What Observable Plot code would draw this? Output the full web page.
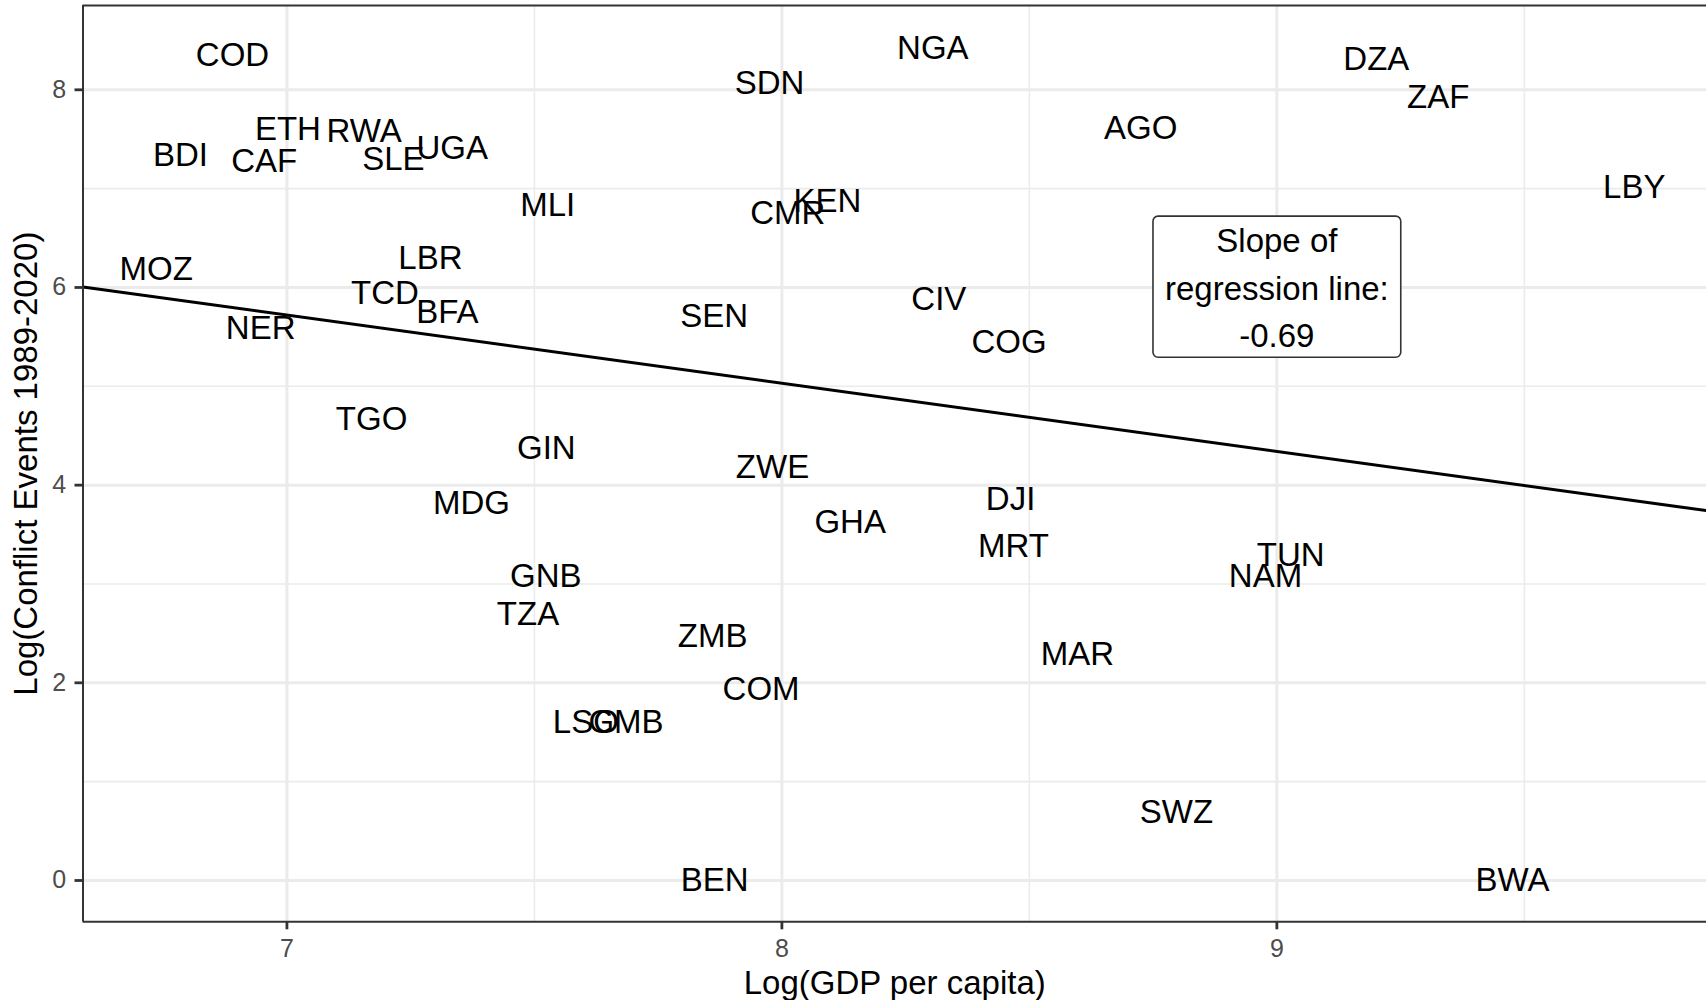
<!DOCTYPE html>
<html>
<head>
<meta charset="utf-8">
<script src="https://cdn.jsdelivr.net/npm/d3@7"></script>
<script src="https://cdn.jsdelivr.net/npm/@observablehq/plot@0.6"></script>
<style>
  html, body { margin: 0; padding: 0; background: #ffffff; overflow: hidden; }
  #chart svg { display: block; }
</style>
</head>
<body>
<div id="chart"></div>
<script>
// ---- Data ----
const countries = ["COD","ETH","RWA","BDI","CAF","SLE","UGA","MLI","MOZ","LBR","TCD","BFA","NER","TGO","GIN","MDG","GNB","TZA","LSO","GMB",
                   "NGA","SDN","AGO","KEN","CMR","CIV","SEN","COG","ZWE","DJI","GHA","MRT","ZMB","MAR","COM","BEN","SWZ",
                   "DZA","ZAF","LBY","TUN","NAM","BWA"];
const logGdp = [6.890, 7.002, 7.156, 6.785, 6.954, 7.215, 7.334, 7.527, 6.736, 7.290, 7.198, 7.324, 6.947, 7.171, 7.524, 7.373, 7.523, 7.487, 7.604, 7.685,
                8.305, 7.975, 8.725, 8.092, 8.012, 8.317, 7.863, 8.459, 7.981, 8.462, 8.138, 8.468, 7.860, 8.597, 7.958, 7.864, 8.797,
                9.201, 9.326, 9.722, 9.028, 8.977, 9.476];
const logConflict = [8.345, 7.604, 7.583, 7.331, 7.273, 7.297, 7.410, 6.828, 6.185, 6.292, 5.935, 5.743, 5.581, 4.664, 4.368, 3.815, 3.079, 2.691, 1.598, 1.598,
                     8.421, 8.060, 7.612, 6.872, 6.746, 5.878, 5.708, 5.440, 4.184, 3.859, 3.623, 3.384, 2.474, 2.288, 1.934, 0, 0.693,
                     8.311, 7.925, 7.016, 3.286, 3.081, 0];

const xTicks = [7, 8, 9];
const xMinorTicks = [7.5, 8.5, 9.5];
const yTicks = [0, 2, 4, 6, 8];
const yMinorTicks = [1, 3, 5, 7];
const xDomain = [6.588, 9.868];
const yDomain = [-0.418, 8.853];

const regSlope = -0.69;
const regIntercept = 10.551;
const annotationX = [9];
const annotationY = [6];
const annotationText = ["Slope of\nregression line:\n-0.69"];

const xTitle = "Log(GDP per capita)";
const yTitle = "Log(Conflict Events 1989-2020)";

// ---- Build tables ----
const data = countries.map((c, i) => ({code: c, gdp: logGdp[i], conflict: logConflict[i]}));
const regLine = xDomain.map(x => ({x, y: regIntercept + regSlope * x}));
const annotation = annotationText.map((t, i) => ({x: annotationX[i], y: annotationY[i], text: t}));

const FONT = "'Liberation Sans', Arial, Helvetica, sans-serif";
const gridColor = "#EBEBEB";
const darkLine = "#333333";
const intFmt = d3.format("d");
const LABEL_SIZE = 33;
const TICK_SIZE = 25;

const plot = Plot.plot({
  width: 1706,
  height: 1000,
  marginLeft: 82.5,
  marginRight: 0,
  marginTop: 5,
  marginBottom: 78.7,
  x: {domain: xDomain},
  y: {domain: yDomain},
  style: {fontFamily: FONT, background: "#ffffff", color: "#000000"},
  marks: [
    // minor gridlines
    Plot.ruleX(xMinorTicks, {stroke: gridColor, strokeWidth: 1.6}),
    Plot.ruleY(yMinorTicks, {stroke: gridColor, strokeWidth: 1.6}),
    // major gridlines
    Plot.ruleX(xTicks, {stroke: gridColor, strokeWidth: 3}),
    Plot.ruleY(yTicks, {stroke: gridColor, strokeWidth: 3}),
    // country labels
    Plot.text(data, {x: "gdp", y: "conflict", text: "code", fontSize: LABEL_SIZE, fill: "#000000"}),
    // regression line
    Plot.line(regLine, {x: "x", y: "y", stroke: "#000000", strokeWidth: 3, clip: true}),
    // annotation label
    Plot.text(annotation, {x: "x", y: "y", text: "text", fontSize: LABEL_SIZE, lineHeight: 1.44, dy: -3, fill: "#000000"}),
    // panel border (left, top, bottom)
    Plot.ruleX([xDomain[0]], {stroke: darkLine, strokeWidth: 2}),
    Plot.ruleY([yDomain[0], yDomain[1]], {stroke: darkLine, strokeWidth: 2}),
    // axes
    Plot.axisX(xTicks, {tickSize: 8, tickPadding: 9, fontSize: TICK_SIZE, tickFormat: intFmt, stroke: darkLine, strokeWidth: 2.8, fill: "#4D4D4D", label: null}),
    Plot.axisY(yTicks, {tickSize: 8, tickPadding: 8.8, fontSize: TICK_SIZE, tickFormat: intFmt, stroke: darkLine, strokeWidth: 2.8, fill: "#4D4D4D", label: null}),
    // axis titles
    Plot.text([xTitle], {frameAnchor: "bottom", lineAnchor: "middle", textAnchor: "middle", text: d => d, dy: 61.6, fontSize: LABEL_SIZE, fill: "#000000"}),
    Plot.text([yTitle], {frameAnchor: "left", lineAnchor: "middle", textAnchor: "middle", text: d => d, rotate: -90, dx: -56.3, fontSize: LABEL_SIZE, fill: "#000000"})
  ]
});

document.getElementById("chart").appendChild(plot);

// make sure the tick labels use the intended size
plot.querySelectorAll('g[aria-label$="tick label"]').forEach(g => {
  g.setAttribute("font-size", TICK_SIZE);
  g.querySelectorAll("text").forEach(t => t.style.fontSize = TICK_SIZE + "px");
});

// Rounded white box behind the annotation text (like a ggplot label)
const svgBox = plot.getBoundingClientRect();
const annNode = Array.from(plot.querySelectorAll("text")).find(e => e.textContent.startsWith("Slope"));
if (annNode) {
  const bb = annNode.getBoundingClientRect();
  const padX = 12, padTop = 6, padBottom = 3;
  const g = annNode.closest("g");
  const rect = document.createElementNS("http://www.w3.org/2000/svg", "rect");
  rect.setAttribute("x", bb.left - svgBox.left - padX);
  rect.setAttribute("y", bb.top - svgBox.top - padTop);
  rect.setAttribute("width", bb.width + 2 * padX);
  rect.setAttribute("height", bb.height + padTop + padBottom);
  rect.setAttribute("rx", 5);
  rect.setAttribute("ry", 5);
  rect.setAttribute("fill", "#ffffff");
  rect.setAttribute("stroke", darkLine);
  rect.setAttribute("stroke-width", 1.6);
  g.parentNode.insertBefore(rect, g);
}
</script>
</body>
</html>
